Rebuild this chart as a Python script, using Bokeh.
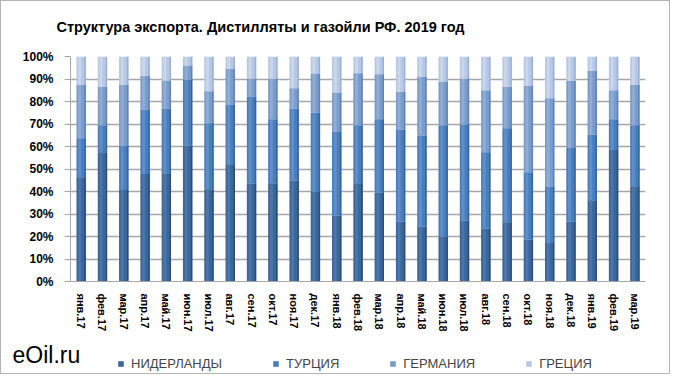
from bokeh.plotting import figure
from bokeh.models import (ColumnDataSource, FactorRange, NumeralTickFormatter, Label, Legend,
                          LegendItem, FixedTicker, Range1d)
from bokeh.layouts import column
from bokeh.transform import dodge
from bokeh.embed import file_html
from bokeh.resources import INLINE

months = ["янв.17", "фев.17", "мар.17", "апр.17", "май.17", "июн.17", "июл.17", "авг.17",
          "сен.17", "окт.17", "ноя.17", "дек.17", "янв.18", "фев.18", "мар.18", "апр.18",
          "май.18", "июн.18", "июл.18", "авг.18", "сен.18", "окт.18", "ноя.18", "дек.18",
          "янв.19", "фев.19", "мар.19"]
nl = [46.3, 57.5, 40.7, 47.8, 47.8, 60.4, 41.0, 51.8, 43.4, 43.7, 44.9, 39.8, 29.3, 43.7,
      39.4, 26.7, 24.5, 20.0, 27.0, 23.5, 26.3, 18.6, 17.1, 26.6, 36.1, 58.4, 42.3]
tr = [17.4, 11.9, 19.7, 28.6, 29.1, 29.2, 29.3, 26.6, 38.8, 28.4, 31.9, 35.2, 37.1, 25.8,
      32.7, 40.9, 40.4, 49.5, 42.8, 34.0, 41.8, 30.0, 24.9, 32.7, 29.1, 13.7, 27.2]
de = [23.6, 17.0, 26.9, 14.9, 12.4, 6.4, 14.3, 16.1, 8.0, 18.1, 9.1, 17.4, 17.6, 23.1,
      20.0, 16.6, 26.0, 19.4, 20.4, 27.5, 18.5, 38.3, 39.4, 29.9, 28.4, 12.9, 18.0]
gr = [12.7, 13.6, 12.7, 8.7, 10.7, 4.0, 15.4, 5.5, 9.8, 9.8, 14.1, 7.6, 16.0, 7.4,
      7.9, 15.8, 9.1, 11.1, 9.8, 15.0, 13.4, 13.1, 18.6, 10.8, 6.4, 15.0, 12.5]
series_names = ["НИДЕРЛАНДЫ", "ТУРЦИЯ", "ГЕРМАНИЯ", "ГРЕЦИЯ"]
y_ticks = [0, 0.1, 0.2, 0.3, 0.4, 0.5, 0.6, 0.7, 0.8, 0.9, 1.0]
title_text = "Структура экспорта. Дистилляты и газойли РФ. 2019 год"
brand_text = "eOil.ru"

keys = ["nl", "tr", "de", "gr"]
src = ColumnDataSource(dict(
    m=months,
    nl=[v / 100 for v in nl],
    tr=[v / 100 for v in tr],
    de=[v / 100 for v in de],
    gr=[v / 100 for v in gr],
))

base_colors = ["#3b6699", "#4a7ebb", "#7b9ccb", "#b7c8e4"]
light_colors = ["#4a76ab", "#5d8fcb", "#8eacd6", "#c9d6ec"]
dark_colors = ["#2b4d78", "#38649a", "#6283b3", "#9bb0d2"]
BORDER = "1px solid #b4b4b4"


def strip(height, styles):
    f = figure(width=670, height=height, x_range=Range1d(0, 670), y_range=Range1d(0, height),
               output_backend="svg", toolbar_location=None,
               min_border_left=0, min_border_right=0, min_border_top=0, min_border_bottom=0)
    f.frame_align = False
    f.styles = styles
    f.axis.visible = False
    f.grid.grid_line_color = None
    f.outline_line_color = None
    f.background_fill_color = "white"
    f.border_fill_color = "white"
    return f


# top strip: title
t = strip(40, {"border-top": BORDER, "border-left": BORDER, "border-right": BORDER})
t.add_layout(Label(x=259, y=15, text=title_text, text_font="Liberation Sans",
                   text_font_style="bold", text_font_size="14.5px", text_align="center",
                   text_baseline="middle", text_color="black"))

# main chart
p = figure(width=670, height=296, x_range=FactorRange(factors=months, range_padding=0),
           y_range=(0, 1.0), output_backend="svg", toolbar_location=None,
           min_border_left=69, min_border_right=26, min_border_top=16, min_border_bottom=55)
p.frame_align = False
p.styles = {"border-left": BORDER, "border-right": BORDER}
p.outline_line_color = None
p.background_fill_color = "white"
p.border_fill_color = "white"

base = p.vbar_stack(keys, x="m", width=0.44, color=base_colors, line_color=None, source=src)
p.vbar_stack(keys, x=dodge("m", -0.07, range=p.x_range), width=0.14, color=light_colors,
             line_color=None, source=src)
p.vbar_stack(keys, x=dodge("m", 0.185, range=p.x_range), width=0.07, color=dark_colors,
             line_color=None, source=src)

# y axis
p.yaxis.ticker = FixedTicker(ticks=y_ticks)
p.yaxis.formatter = NumeralTickFormatter(format="0%")
p.yaxis.major_label_text_font = "Liberation Sans"
p.yaxis.major_label_text_font_style = "bold"
p.yaxis.major_label_text_font_size = "12px"
p.yaxis.major_label_text_color = "black"
p.yaxis.axis_line_color = "#a6a6a6"
p.yaxis.major_tick_line_color = "#a6a6a6"
p.yaxis.major_tick_out = 6
p.yaxis.major_tick_in = 0
p.yaxis.minor_tick_line_color = None
p.yaxis.major_label_standoff = 11

# x axis
p.xaxis.major_label_orientation = "vertical"
p.xaxis.major_label_text_font = "Liberation Sans"
p.xaxis.major_label_text_font_style = "bold"
p.xaxis.major_label_text_font_size = "11px"
p.xaxis.major_label_text_color = "black"
p.xaxis.axis_line_color = "#a6a6a6"
p.xaxis.major_tick_line_color = None
p.xaxis.major_label_standoff = 6

p.xgrid.grid_line_color = None
p.ygrid.grid_line_color = "#a6a6a6"
p.ygrid.grid_line_width = 1.3
p.ygrid.ticker = FixedTicker(ticks=y_ticks)

# bottom strip: brand + legend
q = strip(38, {"border-bottom": BORDER, "border-left": BORDER, "border-right": BORDER})
q.add_layout(Label(x=11, y=20, text=brand_text, text_font="Liberation Sans",
                   text_font_size="23px", text_align="left", text_baseline="middle",
                   text_color="black"))

# legend-only renderers (one point each, kept outside the visible range)
dummies = [q.vbar(x=[-100], top=[1], width=1, fill_color=c, line_color=None)
           for c in base_colors]
legend = Legend(items=[LegendItem(label=n, renderers=[r]) for n, r in zip(series_names, dummies)],
                orientation="horizontal", location=(116, 3.5), padding=0, margin=0,
                spacing=50, glyph_width=7, glyph_height=7, label_standoff=7,
                label_text_font="Liberation Sans", label_text_font_size="13px",
                border_line_color=None, background_fill_alpha=0)
q.add_layout(legend, "center")

layout = column(t, p, q, spacing=0)
open("out.html", "w").write(file_html(layout, INLINE))
